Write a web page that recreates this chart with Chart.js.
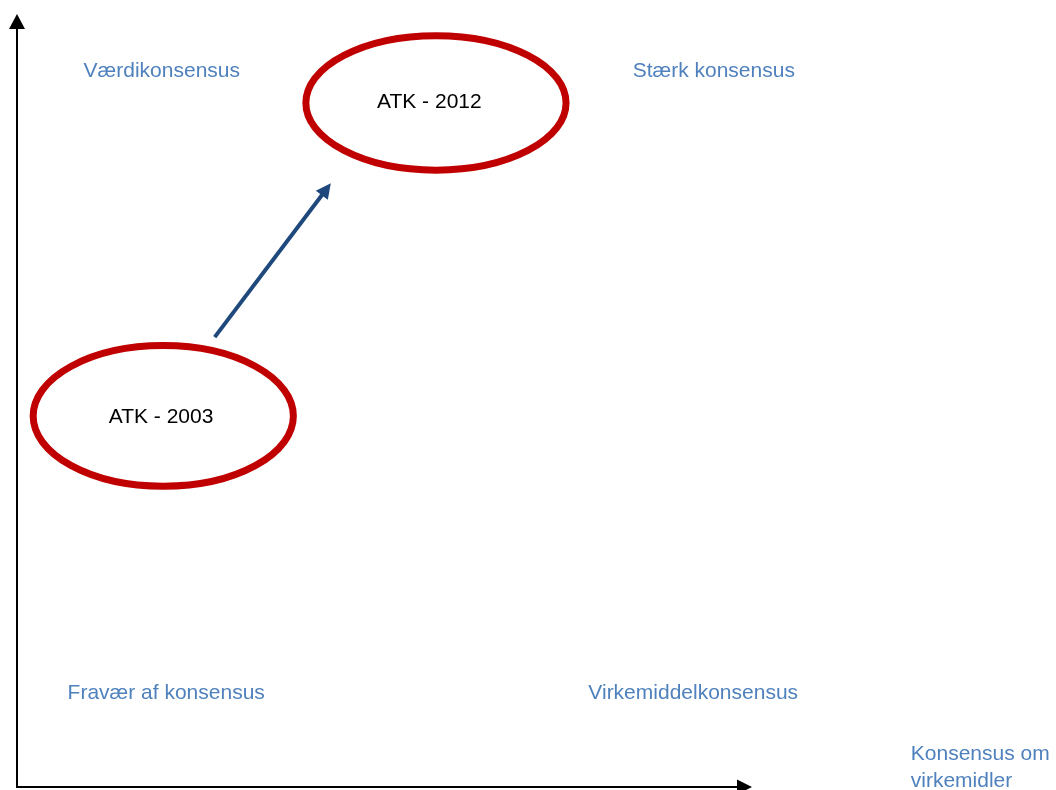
<!DOCTYPE html>
<html>
<head>
<meta charset="utf-8">
<script src="https://cdn.jsdelivr.net/npm/chart.js@4"></script>
<style>
html,body{margin:0;padding:0;background:#fff;}
#wrap{width:1056px;height:790px;position:relative;}
</style>
</head>
<body>
<div id="wrap"><canvas id="c" width="1056" height="790"></canvas></div>
<script>
// Conceptual diagram: x = "Konsensus om virkemidler", y = "Værdikonsensus" (0..100 units)
const xRange = [0, 100];
const yRange = [0, 100];

// Ellipses (positions in the ATK matrix)
const ellipseLabels = ["ATK - 2003", "ATK - 2012"];
const ellipseX = [19.9, 57.0];
const ellipseY = [48.0, 88.5];
const ellipseRx = [17.7, 17.7];
const ellipseRy = [9.1, 8.7];
const ellipseLabelX = [19.6, 56.1];
const ellipseLabelY = [47.9, 88.6];

// Movement arrow (from 2003 to 2012)
const arrowFrom = [26.9, 58.2];
const arrowTo = [42.7, 78.1];

// Quadrant labels
const quadrantLabels = ["Værdikonsensus", "Stærk konsensus", "Fravær af konsensus", "Virkemiddelkonsensus"];
const quadrantX = [19.7, 94.8, 20.3, 92.0];
const quadrantY = [92.6, 92.6, 12.1, 12.1];

// Axis title
const axisTitleLines = ["Konsensus om", "virkemidler"];
const axisTitleX = 121.6;
const axisTitleY = [4.3, 0.7];

const BLUE_TEXT = '#4F81BD';
const RED = '#C00000';
const NAVY = '#1F497D';
const FONT = '"Liberation Sans", Arial, sans-serif';

function arrowHead(ctx, x1, y1, x2, y2, len, half, color) {
  const a = Math.atan2(y2 - y1, x2 - x1);
  ctx.fillStyle = color;
  ctx.beginPath();
  ctx.moveTo(x2, y2);
  ctx.lineTo(x2 - len * Math.cos(a) + half * Math.sin(a), y2 - len * Math.sin(a) - half * Math.cos(a));
  ctx.lineTo(x2 - len * Math.cos(a) - half * Math.sin(a), y2 - len * Math.sin(a) + half * Math.cos(a));
  ctx.closePath();
  ctx.fill();
}

const diagramPlugin = {
  id: 'diagram',
  afterDatasetsDraw(chart) {
    const ctx = chart.ctx;
    const xs = chart.scales.x, ys = chart.scales.y;
    const px = v => xs.getPixelForValue(v);
    const py = v => ys.getPixelForValue(v);
    ctx.save();

    // Axes with arrowheads
    const ox = px(xRange[0]), oy = py(yRange[0]);
    const xEnd = px(xRange[1]), yEnd = py(yRange[1]);
    ctx.strokeStyle = '#000';
    ctx.lineWidth = 2;
    ctx.beginPath();
    ctx.moveTo(ox, oy);
    ctx.lineTo(xEnd - 12, oy);
    ctx.moveTo(ox, oy + 1);
    ctx.lineTo(ox, yEnd + 12);
    ctx.stroke();
    arrowHead(ctx, ox, oy, xEnd, oy, 15, 7.5, '#000');
    arrowHead(ctx, ox, oy, ox, yEnd, 15, 8, '#000');

    // Movement arrow
    const ax1 = px(arrowFrom[0]), ay1 = py(arrowFrom[1]);
    const ax2 = px(arrowTo[0]), ay2 = py(arrowTo[1]);
    const ang = Math.atan2(ay2 - ay1, ax2 - ax1);
    ctx.strokeStyle = NAVY;
    ctx.lineWidth = 4;
    ctx.beginPath();
    ctx.moveTo(ax1, ay1);
    ctx.lineTo(ax2 - 10 * Math.cos(ang), ay2 - 10 * Math.sin(ang));
    ctx.stroke();
    arrowHead(ctx, ax1, ay1, ax2, ay2, 15, 7.5, NAVY);

    // Ellipses
    ctx.strokeStyle = RED;
    ctx.lineWidth = 7;
    for (let i = 0; i < ellipseLabels.length; i++) {
      const cx = px(ellipseX[i]), cy = py(ellipseY[i]);
      const rx = Math.abs(px(ellipseX[i] + ellipseRx[i]) - cx);
      const ry = Math.abs(py(ellipseY[i] + ellipseRy[i]) - cy);
      ctx.beginPath();
      ctx.ellipse(cx, cy, rx, ry, 0, 0, Math.PI * 2);
      ctx.stroke();
      ctx.fillStyle = '#000';
      ctx.font = '21px ' + FONT;
      ctx.textAlign = 'center';
      ctx.textBaseline = 'middle';
      ctx.fillText(ellipseLabels[i], px(ellipseLabelX[i]), py(ellipseLabelY[i]));
    }

    // Quadrant labels
    ctx.fillStyle = BLUE_TEXT;
    ctx.font = '21px ' + FONT;
    ctx.textAlign = 'center';
    ctx.textBaseline = 'middle';
    for (let i = 0; i < quadrantLabels.length; i++) {
      ctx.fillText(quadrantLabels[i], px(quadrantX[i]), py(quadrantY[i]));
    }

    // Axis title
    ctx.textAlign = 'left';
    for (let i = 0; i < axisTitleLines.length; i++) {
      ctx.fillText(axisTitleLines[i], px(axisTitleX), py(axisTitleY[i]));
    }
    ctx.restore();
  }
};

new Chart(document.getElementById('c'), {
  type: 'scatter',
  data: {
    datasets: [{
      data: ellipseX.map((x, i) => ({x: x, y: ellipseY[i]})),
      pointRadius: 0,
      showLine: false
    }]
  },
  options: {
    responsive: false,
    animation: false,
    events: [],
    layout: { padding: { left: 17, right: 304, top: 14, bottom: 3 } },
    plugins: { legend: { display: false }, tooltip: { enabled: false }, title: { display: false } },
    scales: {
      x: { type: 'linear', min: xRange[0], max: xRange[1], display: false },
      y: { type: 'linear', min: yRange[0], max: yRange[1], display: false }
    }
  },
  plugins: [diagramPlugin]
});
</script>
</body>
</html>
